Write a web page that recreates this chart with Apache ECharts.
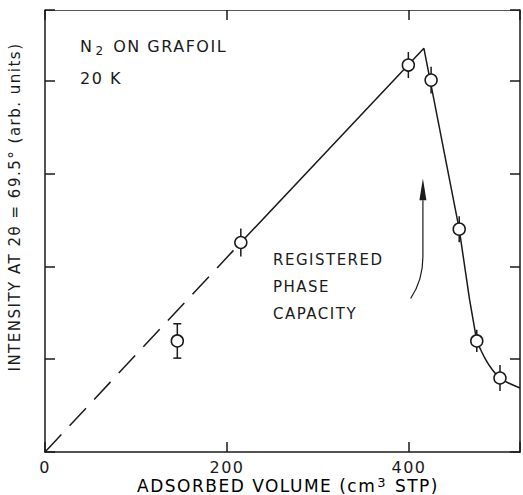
<!DOCTYPE html>
<html><head><meta charset="utf-8">
<script src="https://cdn.jsdelivr.net/npm/echarts@6/dist/echarts.min.js"></script>
<style>html,body{margin:0;padding:0;background:#fff}#c{width:523px;height:495px}#c svg text{letter-spacing:1.5px}</style>
</head><body><div id="c"></div>
<script>
// measured points (adsorbed volume, intensity in arb. units where 1 = one tick)
const volume    = [145.4, 215.2, 399.3, 424.3, 455.2, 474.5, 500.0];
const intensity = [1.196, 2.256, 4.167, 4.005, 2.40, 1.196, 0.797];
const errHalf   = [0.185, 0.15, 0.14, 0.145, 0.14, 0.12, 0.14];
const errCap    = [1, 0, 0, 0, 0, 0, 0];
// guide curve
const fitDashedX = [0, 215.2];
const fitDashedY = [0, 2.256];
const fitSolidX  = [215.2, 416.4, 455.2, 466.5, 474.5];
const fitSolidY  = [2.256, 4.347, 2.40, 1.646, 1.196];
const fitTailX   = [474.5, 484, 492, 500, 510, 522];
const fitTailY   = [1.196, 1.0, 0.88, 0.797, 0.74, 0.69];
// axis ticks
const xTickValues = [0, 200, 400];
// annotation arrow (data coords): tail, control, shaft bottom, head base, tip
const arrowPts = [[401.8, 1.653], [415.3, 1.85], [415.3, 2.10], [415.3, 2.71], [415.3, 2.946]];

const FONT = 'DejaVu Sans';
const INK = '#1a1a1a';
const LS = 1.5; // letter spacing used by the lettering
const zip = (a, b) => a.map((v, i) => [v, b[i]]);

// text measurement that accounts for the letter spacing applied in CSS
const mctx = document.createElement('canvas').getContext('2d');
if (echarts.setPlatformAPI) {
  echarts.setPlatformAPI({
    measureText: (text, font) => {
      mctx.font = font || '12px sans-serif';
      const w = mctx.measureText(text || '').width + (text ? text.length * LS : 0);
      return {width: w};
    }
  });
}

const chart = echarts.init(document.getElementById('c'), null, {renderer: 'svg'});
function makeAxis(extra) {
  return Object.assign({
    type: 'value', min: 0,
    axisLine: {show: true, onZero: false, lineStyle: {color: INK, width: 1.5}},
    axisTick: {show: true, inside: true, length: 10, lineStyle: {color: INK, width: 1.5}},
    axisLabel: {show: false},
    splitLine: {show: false}
  }, extra);
}
const option = {
  animation: false,
  backgroundColor: '#fff',
  grid: {left: 45, top: 10, right: -1, bottom: 43},
  xAxis: [
    makeAxis({position: 'bottom', max: 522, interval: 200,
      axisLabel: {show: true, margin: 7, fontFamily: FONT, fontSize: 16, color: INK,
        formatter: v => xTickValues.includes(v) ? String(v) : ''}}),
    makeAxis({position: 'top', max: 522, interval: 200,
      axisLine: {show: true, onZero: false, lineStyle: {color: '#555', width: 1.2}}})
  ],
  yAxis: [
    makeAxis({position: 'left', max: 4.76, interval: 1}),
    makeAxis({position: 'right', max: 4.76, interval: 1})
  ],
  series: [
    {type: 'line', data: zip(fitDashedX, fitDashedY), symbol: 'none', z: 2,
      lineStyle: {color: INK, width: 1.5, type: [24, 12]}},
    {type: 'line', data: zip(fitSolidX, fitSolidY), symbol: 'none', z: 2,
      lineStyle: {color: INK, width: 1.5}},
    {type: 'line', data: zip(fitTailX, fitTailY), symbol: 'none', smooth: 0.4, z: 2,
      lineStyle: {color: INK, width: 1.5}},
    {type: 'custom', z: 3,
      data: volume.map((v, i) => [v, intensity[i] - errHalf[i], intensity[i] + errHalf[i], errCap[i]]),
      renderItem: (params, api) => {
        const lo = api.coord([api.value(0), api.value(1)]);
        const hi = api.coord([api.value(0), api.value(2)]);
        const children = [{type: 'line', shape: {x1: lo[0], y1: lo[1], x2: hi[0], y2: hi[1]},
          style: {stroke: INK, lineWidth: 1.5}}];
        if (api.value(3)) {
          children.push({type: 'line', shape: {x1: lo[0] - 4, y1: lo[1], x2: lo[0] + 4, y2: lo[1]}, style: {stroke: INK, lineWidth: 1.5}});
          children.push({type: 'line', shape: {x1: hi[0] - 4, y1: hi[1], x2: hi[0] + 4, y2: hi[1]}, style: {stroke: INK, lineWidth: 1.5}});
        }
        return {type: 'group', children};
      }},
    {type: 'scatter', z: 4, data: zip(volume, intensity), symbol: 'circle', symbolSize: 12,
      itemStyle: {color: '#fff', opacity: 1, borderColor: INK, borderWidth: 1.5}}
  ]
};
chart.setOption(option);

const P = p => chart.convertToPixel({xAxisIndex: 0, yAxisIndex: 0}, p);
const a0 = P(arrowPts[0]), a1 = P(arrowPts[1]), a2 = P(arrowPts[2]), a3 = P(arrowPts[3]), a4 = P(arrowPts[4]);
const textStyle = {fontFamily: FONT, fontSize: 16, fill: INK};
chart.setOption({graphic: [
  {type: 'text', left: 80, top: 38, style: {
    text: '{a|N}{s|2}{a| ON GRAFOIL}', fill: INK,
    rich: {a: {fontFamily: FONT, fontSize: 16, color: INK}, s: {fontFamily: FONT, fontSize: 12, color: INK, padding: [8, 2, 0, 2]}}}},
  {type: 'text', left: 80, top: 70, style: Object.assign({text: '20 K'}, textStyle)},
  {type: 'text', left: 273, top: 246, style: Object.assign({text: 'REGISTERED\nPHASE\nCAPACITY', lineHeight: 27}, textStyle, {fontSize: 15})},
  {type: 'text', x: 15, y: 207, rotation: Math.PI / 2, style: Object.assign({
    text: 'INTENSITY AT 2θ = 69.5° (arb. units)', align: 'center', verticalAlign: 'middle'}, textStyle, {fontSize: 15})},
  {type: 'text', x: 288, y: 486, style: {
    text: '{a|ADSORBED VOLUME (cm}{s|3}{a| STP)}', align: 'center', verticalAlign: 'middle',
    rich: {a: {fontFamily: FONT, fontSize: 17, color: INK}, s: {fontFamily: FONT, fontSize: 13, color: INK, padding: [0, 1, 8, 1]}}}},
  {type: 'bezierCurve', shape: {x1: a0[0], y1: a0[1], cpx1: a1[0], cpy1: a1[1], x2: a2[0], y2: a2[1]},
    style: {stroke: INK, lineWidth: 1.2, fill: null}},
  {type: 'line', shape: {x1: a2[0], y1: a2[1], x2: a3[0], y2: a3[1]}, style: {stroke: INK, lineWidth: 1.2}},
  {type: 'polygon', shape: {points: [[a4[0], a4[1]], [a3[0] - 3.5, a3[1]], [a3[0] + 3.5, a3[1]]]}, style: {fill: INK}}
]});
</script></body></html>
